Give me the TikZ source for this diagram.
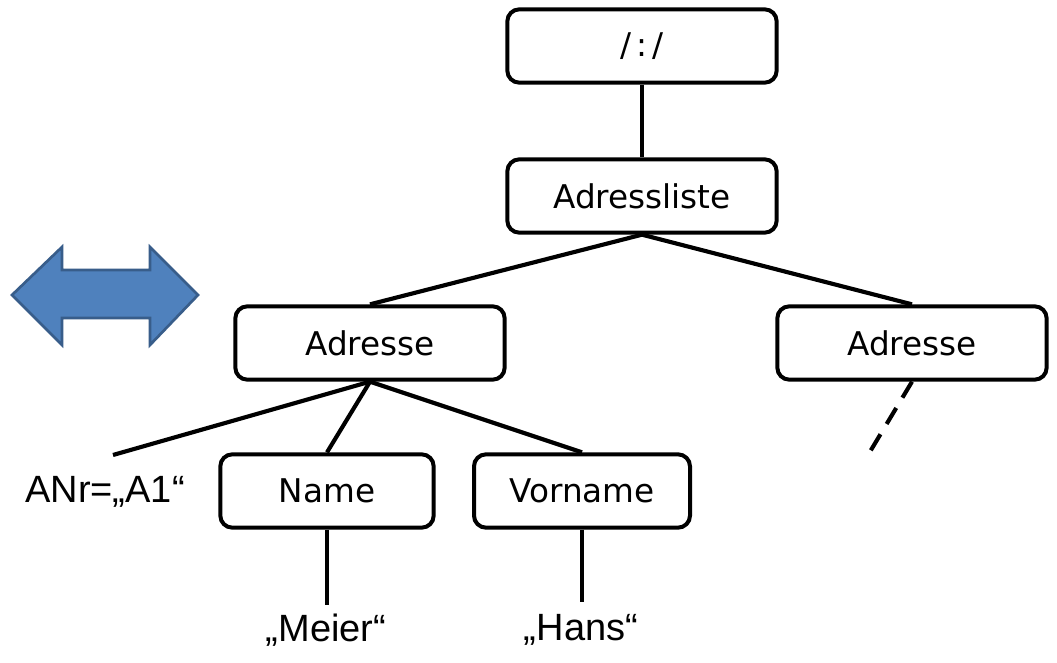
\documentclass[tikz,border=0pt]{standalone}
\usepackage{fontspec}
\setmainfont{DejaVu Sans}
\newfontfamily\arialf{Liberation Sans}
\begin{document}
\begin{tikzpicture}[x=0.75pt,y=-0.75pt,
  box/.style={draw=black,line width=3pt,rounded corners=9pt,fill=white,
    minimum width=202pt,minimum height=55pt,inner sep=0pt,font=\fontsize{24.5}{28}\selectfont},
  edge/.style={line width=3.1pt},
  plain/.style={inner sep=0pt,font=\arialf\fontsize{28.5}{32}\selectfont}]
\useasboundingbox (0,0) rectangle (1057,663);
\fill[white] (0,0) rectangle (1057,663);
% double arrow
\draw[fill={rgb,255:red,79;green,129;blue,189},draw={rgb,255:red,56;green,93;blue,138},line width=2pt,line join=miter]
  (12,295) -- (62,247) -- (62,270) -- (150,270) -- (150,247) -- (198,295) -- (150,345) -- (150,318) -- (62,318) -- (62,345) -- cycle;
% nodes
\node[box] (root) at (642,46) {/\,:\,/};
\node[box] (list) at (642,196) {Adressliste};
\node[box] (a1) at (370,343) {Adresse};
\node[box] (a2) at (912,343) {Adresse};
\node[box,minimum width=160pt] (name) at (327,491) {Name};
\node[box,minimum width=162pt] (vor) at (582,491) {Vorname};
\node[plain] (anr) at (105,492) {ANr=„A1“};
\node[plain] (meier) at (326,630) {„Meier“};
\node[plain] (hans) at (581,630) {„Hans“};
\coordinate (anrend) at (113,455);
\coordinate (dashend) at (868,455);
\coordinate (meierend) at (327,605);
\coordinate (hansend) at (582,602);
% edges
\draw[edge] (root.south) -- (list.north);
\draw[edge] (list.south) -- (a1.north);
\draw[edge] (list.south) -- (a2.north);
\draw[edge] (a1.south) -- (anrend);
\draw[edge] (a1.south) -- (name.north);
\draw[edge] (a1.south) -- (vor.north);
\draw[edge,dash pattern=on 14pt off 9pt] (a2.south) -- (dashend);
\draw[edge] (name.south) -- (meierend);
\draw[edge] (vor.south) -- (hansend);
\end{tikzpicture}
\end{document}
